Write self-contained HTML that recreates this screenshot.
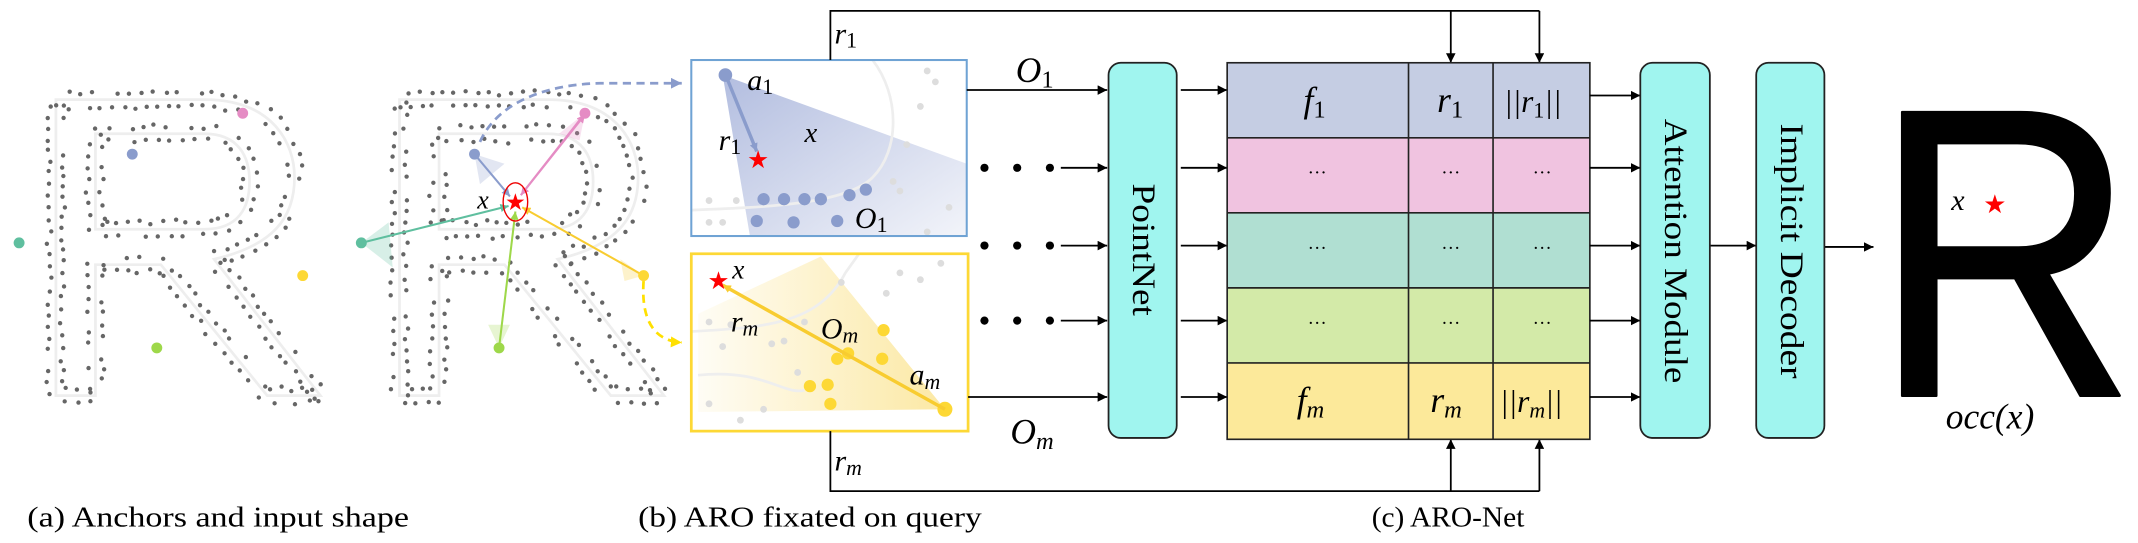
<!DOCTYPE html>
<html><head><meta charset="utf-8"><style>
html,body{margin:0;padding:0;background:#fff;overflow:hidden}
svg{display:block}
</style></head><body>
<svg id="sv" width="2138" height="543" viewBox="0 0 1568 398" preserveAspectRatio="none" xmlns="http://www.w3.org/2000/svg" font-family="Liberation Serif, serif">
<defs>
<marker id="ar" viewBox="0 0 10 10" refX="10" refY="5" markerWidth="7" markerHeight="7" markerUnits="userSpaceOnUse" orient="auto"><path d="M0,0L10,5L0,10z" fill="#000"/></marker>
<marker id="ab" viewBox="0 0 10 10" refX="10" refY="5" markerWidth="8" markerHeight="8" markerUnits="userSpaceOnUse" orient="auto"><path d="M0,0L10,5L0,10z" fill="#8a9ccc"/></marker>
<marker id="ay" viewBox="0 0 10 10" refX="10" refY="5" markerWidth="8" markerHeight="8" markerUnits="userSpaceOnUse" orient="auto"><path d="M0,0L10,5L0,10z" fill="#ffe000"/></marker>
<marker id="mb" viewBox="0 0 10 10" refX="10" refY="5" markerWidth="6" markerHeight="6" markerUnits="userSpaceOnUse" orient="auto"><path d="M0,0L10,5L0,10z" fill="#8a9ccc"/></marker>
<marker id="mp" viewBox="0 0 10 10" refX="10" refY="5" markerWidth="6" markerHeight="6" markerUnits="userSpaceOnUse" orient="auto"><path d="M0,0L10,5L0,10z" fill="#e58cc4"/></marker>
<marker id="mt" viewBox="0 0 10 10" refX="10" refY="5" markerWidth="6" markerHeight="6" markerUnits="userSpaceOnUse" orient="auto"><path d="M0,0L10,5L0,10z" fill="#5fbf9f"/></marker>
<marker id="mg" viewBox="0 0 10 10" refX="10" refY="5" markerWidth="6" markerHeight="6" markerUnits="userSpaceOnUse" orient="auto"><path d="M0,0L10,5L0,10z" fill="#9ed84a"/></marker>
<marker id="my" viewBox="0 0 10 10" refX="10" refY="5" markerWidth="6" markerHeight="6" markerUnits="userSpaceOnUse" orient="auto"><path d="M0,0L10,5L0,10z" fill="#f8cc30"/></marker>
<linearGradient id="gb" x1="0" y1="0" x2="1" y2="1"><stop offset="0" stop-color="#aab6dc" stop-opacity=".9"/><stop offset="1" stop-color="#aab6dc" stop-opacity=".15"/></linearGradient>
<linearGradient id="gy" x1="1" y1="0" x2="0" y2="0"><stop offset="0" stop-color="#fbe69a" stop-opacity=".9"/><stop offset="1" stop-color="#fbe69a" stop-opacity=".1"/></linearGradient>
<path id="Ro" d="M41,73 L150,73 C200,73 216,105 216,130 C216,160 200,180 157,190 L235,290 L196,290 L118,194 L70,194 L70,290 L41,290 Z"/>
<path id="Ri" d="M70,98 L150,98 C175,98 183,115 183,133 C183,152 175,168 150,168 L70,168 Z"/>
</defs>

<g fill="none" stroke="#eee" stroke-width="2"><use href="#Ro"/><use href="#Ri"/></g>
<g id="dots1"></g>
<g transform="translate(252,0)" fill="none" stroke="#eee" stroke-width="2"><use href="#Ro"/><use href="#Ri"/></g>
<g id="dots2" transform="translate(252,0)"></g>
<circle cx="14" cy="178" r="4" fill="#5fbf9f"/>
<circle cx="97" cy="113" r="4" fill="#8a9ccc"/>
<circle cx="178" cy="83" r="4" fill="#e58cc4"/>
<circle cx="222" cy="202" r="4" fill="#fdd835"/>
<circle cx="115" cy="255" r="4" fill="#9ed84a"/>

<polygon points="265,178 285,163 288,196" fill="#5fbf9f" opacity=".25"/>
<polygon points="348,113 370,120 352,135" fill="#8a9ccc" opacity=".25"/>
<polygon points="429,83 410,98 425,103" fill="#e58cc4" opacity=".25"/>
<polygon points="472,202 455,190 458,206" fill="#f8cc30" opacity=".25"/>
<polygon points="366,255 358,238 374,238" fill="#9ed84a" opacity=".25"/>
<line x1="265" y1="178" x2="373" y2="151" stroke="#5fbf9f" stroke-width="1.5" marker-end="url(#mt)"/>
<line x1="348" y1="113" x2="374" y2="144" stroke="#8a9ccc" stroke-width="1.5" marker-end="url(#mb)"/>
<line x1="382" y1="143" x2="429" y2="84" stroke="#e58cc4" stroke-width="1.5" marker-end="url(#mp)"/>
<line x1="429" y1="83" x2="382" y2="143" stroke="#e58cc4" stroke-width="1.5" marker-end="url(#mp)"/>
<line x1="366" y1="255" x2="378" y2="155" stroke="#9ed84a" stroke-width="1.5" marker-end="url(#mg)"/>
<line x1="472" y1="202" x2="383" y2="152" stroke="#f8cc30" stroke-width="1.5" marker-end="url(#my)"/>
<circle cx="265" cy="178" r="4" fill="#5fbf9f"/>
<circle cx="348" cy="113" r="4" fill="#8a9ccc"/>
<circle cx="429" cy="83" r="4" fill="#e58cc4"/>
<circle cx="472" cy="202" r="4" fill="#fdd835"/>
<circle cx="366" cy="255" r="4" fill="#9ed84a"/>
<ellipse cx="378" cy="148" rx="9" ry="14" fill="none" stroke="#e00" stroke-width="1"/>
<text x="378" y="154" font-size="17" fill="#f00" text-anchor="middle" font-family="DejaVu Sans, sans-serif">★</text>
<text x="350" y="153" font-size="19" font-style="italic">x</text>
<path d="M352,104 C365,75 400,62 440,61 L500,61" fill="none" stroke="#8a9ccc" stroke-width="2" stroke-dasharray="6,4" marker-end="url(#ab)"/>
<path d="M472,206 C470,235 480,250 500,251" fill="none" stroke="#ffe000" stroke-width="2" stroke-dasharray="6,4" marker-end="url(#ay)"/>

<rect x="507" y="44" width="202" height="129" fill="#fff"/>
<polygon points="530,55 709,120 709,173 550,173" fill="url(#gb)"/>
<path d="M507,154 C560,152 620,150 640,130 C660,110 660,70 640,44" fill="none" stroke="#eee" stroke-width="2"/>
<g fill="#ddd"><circle cx="520" cy="147" r="2.5"/><circle cx="540" cy="147" r="2.5"/><circle cx="520" cy="163" r="2.5"/><circle cx="530" cy="163" r="2.5"/><circle cx="655" cy="133" r="2.5"/><circle cx="665" cy="106" r="2.5"/><circle cx="680" cy="52" r="2.5"/><circle cx="686" cy="60" r="2.5"/><circle cx="675" cy="78" r="2.5"/><circle cx="696" cy="152" r="2.5"/><circle cx="680" cy="170" r="2.5"/><circle cx="660" cy="140" r="2.5"/></g>
<g fill="#8a9ccc"><circle cx="532" cy="55" r="5"/><circle cx="560" cy="146" r="4.5"/><circle cx="575" cy="146" r="4.5"/><circle cx="590" cy="146" r="4.5"/><circle cx="602" cy="146" r="4.5"/><circle cx="623" cy="143" r="4.5"/><circle cx="635" cy="139" r="4.5"/><circle cx="555" cy="162" r="4.5"/><circle cx="582" cy="163" r="4.5"/><circle cx="614" cy="162" r="4.5"/></g>
<line x1="533" y1="57" x2="555" y2="111" stroke="#8a9ccc" stroke-width="2.5" marker-end="url(#mb)"/>
<text x="556" y="123" font-size="18" fill="#f00" text-anchor="middle" font-family="DejaVu Sans, sans-serif">★</text>
<text x="548" y="66" font-size="22" font-style="italic">a<tspan font-style="normal" font-size="16" dy="3">1</tspan></text>
<text x="527" y="110" font-size="22" font-style="italic">r<tspan font-style="normal" font-size="16" dy="3">1</tspan></text>
<text x="590" y="104" font-size="21" font-style="italic">x</text>
<text x="627" y="167" font-size="22" font-style="italic">O<tspan font-style="normal" font-size="16" dy="3">1</tspan></text>
<rect x="507" y="44" width="202" height="129" fill="none" stroke="#6fa3d4" stroke-width="1.5"/>

<rect x="507" y="186" width="203" height="130" fill="#fff"/>
<polygon points="602,188 693,300 512,302 512,230" fill="url(#gy)"/>
<path d="M507,243 C560,240 600,238 620,200 L630,186 M590,286 C575,290 560,270 512,275" fill="none" stroke="#eee" stroke-width="2"/>
<g fill="#ddd"><circle cx="520" cy="236" r="2.5"/><circle cx="536" cy="238" r="2.5"/><circle cx="530" cy="254" r="2.5"/><circle cx="566" cy="252" r="2.5"/><circle cx="575" cy="250" r="2.5"/><circle cx="590" cy="236" r="2.5"/><circle cx="617" cy="207" r="2.5"/><circle cx="650" cy="215" r="2.5"/><circle cx="660" cy="200" r="2.5"/><circle cx="675" cy="205" r="2.5"/><circle cx="520" cy="296" r="2.5"/><circle cx="543" cy="308" r="2.5"/><circle cx="560" cy="300" r="2.5"/><circle cx="585" cy="273" r="2.5"/><circle cx="690" cy="193" r="2.5"/></g>
<g fill="#fdd835"><circle cx="614" cy="263" r="4.5"/><circle cx="622" cy="259" r="4.5"/><circle cx="647" cy="263" r="4.5"/><circle cx="648" cy="242" r="4.5"/><circle cx="594" cy="283" r="4.5"/><circle cx="607" cy="282" r="4.5"/><circle cx="609" cy="296" r="4.5"/><circle cx="693" cy="300" r="5.5"/></g>
<line x1="693" y1="300" x2="530" y2="209" stroke="#f8cc30" stroke-width="2.5" marker-end="url(#my)"/>
<text x="527" y="212" font-size="18" fill="#f00" text-anchor="middle" font-family="DejaVu Sans, sans-serif">★</text>
<text x="537" y="204" font-size="20" font-style="italic">x</text>
<text x="536" y="243" font-size="22" font-style="italic">r<tspan font-size="16" dy="3">m</tspan></text>
<text x="602" y="248" font-size="22" font-style="italic">O<tspan font-size="16" dy="3">m</tspan></text>
<text x="667" y="282" font-size="22" font-style="italic">a<tspan font-size="16" dy="3">m</tspan></text>
<rect x="507" y="186" width="203" height="130" fill="none" stroke="#fdd835" stroke-width="2"/>

<g fill="none" stroke="#000" stroke-width="1.3">
<polyline points="609,44 609,8 1129,8"/>
<line x1="1064" y1="8" x2="1064" y2="46" marker-end="url(#ar)"/>
<line x1="1129" y1="8" x2="1129" y2="46" marker-end="url(#ar)"/>
<polyline points="609,316 609,360 1129,360"/>
<line x1="1064" y1="360" x2="1064" y2="322" marker-end="url(#ar)"/>
<line x1="1129" y1="360" x2="1129" y2="322" marker-end="url(#ar)"/>
</g>
<text x="612" y="32" font-size="22" font-style="italic">r<tspan font-style="normal" font-size="16" dy="3">1</tspan></text>
<text x="612" y="345" font-size="22" font-style="italic">r<tspan font-size="16" dy="3">m</tspan></text>

<g stroke="#000" stroke-width="1.3">
<line x1="709" y1="66" x2="812" y2="66" marker-end="url(#ar)"/>
<line x1="710" y1="291" x2="812" y2="291" marker-end="url(#ar)"/>
<line x1="778" y1="123" x2="812" y2="123" marker-end="url(#ar)"/>
<line x1="778" y1="180" x2="812" y2="180" marker-end="url(#ar)"/>
<line x1="778" y1="235" x2="812" y2="235" marker-end="url(#ar)"/>
</g>
<g fill="#000"><circle cx="722" cy="123" r="3"/><circle cx="746" cy="123" r="3"/><circle cx="770" cy="123" r="3"/><circle cx="722" cy="180" r="3"/><circle cx="746" cy="180" r="3"/><circle cx="770" cy="180" r="3"/><circle cx="722" cy="235" r="3"/><circle cx="746" cy="235" r="3"/><circle cx="770" cy="235" r="3"/></g>
<text x="745" y="60" font-size="26" font-style="italic">O<tspan font-style="normal" font-size="18" dy="4">1</tspan></text>
<text x="741" y="325" font-size="26" font-style="italic">O<tspan font-size="18" dy="4">m</tspan></text>

<rect x="813" y="46" width="50" height="275" rx="9" fill="#a0f5ef" stroke="#222" stroke-width="1.3"/>
<text transform="translate(831,183) rotate(90)" font-size="24" text-anchor="middle" textLength="97" lengthAdjust="spacingAndGlyphs">PointNet</text>
<g stroke="#000" stroke-width="1.3">
<line x1="866" y1="66" x2="900" y2="66" marker-end="url(#ar)"/>
<line x1="866" y1="123" x2="900" y2="123" marker-end="url(#ar)"/>
<line x1="866" y1="180" x2="900" y2="180" marker-end="url(#ar)"/>
<line x1="866" y1="235" x2="900" y2="235" marker-end="url(#ar)"/>
<line x1="866" y1="291" x2="900" y2="291" marker-end="url(#ar)"/>
</g>

<rect x="900" y="46" width="266" height="55" fill="#c5cde3"/>
<rect x="900" y="101" width="266" height="55" fill="#f0c3e0"/>
<rect x="900" y="156" width="266" height="55" fill="#b0dfd2"/>
<rect x="900" y="211" width="266" height="55" fill="#d3eaa8"/>
<rect x="900" y="266" width="266" height="56" fill="#fce99a"/>
<g stroke="#222" stroke-width="1.2" fill="none">
<rect x="900" y="46" width="266" height="276"/>
<line x1="900" y1="101" x2="1166" y2="101"/><line x1="900" y1="156" x2="1166" y2="156"/><line x1="900" y1="211" x2="1166" y2="211"/><line x1="900" y1="266" x2="1166" y2="266"/>
<line x1="1033" y1="46" x2="1033" y2="322"/><line x1="1095" y1="46" x2="1095" y2="322"/>
</g>
<text x="956" y="82" font-size="26" font-style="italic">f<tspan font-style="normal" font-size="18" dy="4">1</tspan></text>
<text x="1054" y="82" font-size="26" font-style="italic">r<tspan font-style="normal" font-size="18" dy="4">1</tspan></text>
<text x="1103" y="82" font-size="23" font-style="italic">||r<tspan font-style="normal" font-size="16" dy="4">1</tspan><tspan dy="-4">||</tspan></text>
<text x="951" y="302" font-size="26" font-style="italic">f<tspan font-size="18" dy="4">m</tspan></text>
<text x="1049" y="302" font-size="26" font-style="italic">r<tspan font-size="18" dy="4">m</tspan></text>
<text x="1100" y="302" font-size="23" font-style="italic">||r<tspan font-size="16" dy="4">m</tspan><tspan dy="-4">||</tspan></text>
<g font-size="14" text-anchor="middle">
<text x="966" y="131">···</text><text x="1064" y="131">···</text><text x="1131" y="131">···</text>
<text x="966" y="186">···</text><text x="1064" y="186">···</text><text x="1131" y="186">···</text>
<text x="966" y="241">···</text><text x="1064" y="241">···</text><text x="1131" y="241">···</text>
</g>

<g stroke="#000" stroke-width="1.3">
<line x1="1166" y1="70" x2="1203" y2="70" marker-end="url(#ar)"/>
<line x1="1166" y1="123" x2="1203" y2="123" marker-end="url(#ar)"/>
<line x1="1166" y1="180" x2="1203" y2="180" marker-end="url(#ar)"/>
<line x1="1166" y1="235" x2="1203" y2="235" marker-end="url(#ar)"/>
<line x1="1166" y1="291" x2="1203" y2="291" marker-end="url(#ar)"/>
<line x1="1254" y1="180" x2="1288" y2="180" marker-end="url(#ar)"/>
<line x1="1338" y1="181" x2="1374" y2="181" marker-end="url(#ar)"/>
</g>
<rect x="1203" y="46" width="51" height="275" rx="9" fill="#a0f5ef" stroke="#222" stroke-width="1.3"/>
<text transform="translate(1221,184) rotate(90)" font-size="24" text-anchor="middle" textLength="194" lengthAdjust="spacingAndGlyphs">Attention Module</text>
<rect x="1288" y="46" width="50" height="275" rx="9" fill="#a0f5ef" stroke="#222" stroke-width="1.3"/>
<text transform="translate(1306,184) rotate(90)" font-size="24" text-anchor="middle" textLength="187" lengthAdjust="spacingAndGlyphs">Implicit Decoder</text>

<text x="1373" y="290" font-size="302" font-family="Liberation Sans, sans-serif" textLength="194" lengthAdjust="spacingAndGlyphs" stroke="#000" stroke-width="2" stroke-linejoin="round">R</text>
<text x="1431" y="154" font-size="22" font-style="italic">x</text>
<text x="1463" y="156" font-size="19" fill="#f00" text-anchor="middle" font-family="DejaVu Sans, sans-serif">★</text>
<text x="1427" y="314" font-size="26" font-style="italic">occ(x)</text>

<g font-size="21">
<text x="20" y="386" textLength="280" lengthAdjust="spacingAndGlyphs">(a) Anchors and input shape</text>
<text x="468" y="386" textLength="252" lengthAdjust="spacingAndGlyphs">(b) ARO fixated on query</text>
<text x="1006" y="386" textLength="112" lengthAdjust="spacingAndGlyphs">(c) ARO-Net</text>
</g>
</svg>
<script>
(function(){
var NS="http://www.w3.org/2000/svg";
var seed=7;function rnd(){seed=(seed*16807)%2147483647;return (seed-1)/2147483646;}
function make(gid){
 var g=document.getElementById(gid);
 ["Ro","Ri"].forEach(function(id){
  var p=document.getElementById(id);var L=p.getTotalLength();
  [-5,5].forEach(function(off){
   for(var l=0;l<L;l+=7+rnd()*3){
    if(rnd()<0.12)continue;
    var a=p.getPointAtLength(l),b=p.getPointAtLength(Math.min(L,l+0.5));
    var dx=b.x-a.x,dy=b.y-a.y,n=Math.sqrt(dx*dx+dy*dy)||1;
    var nx=-dy/n,ny=dx/n,o=off+(rnd()-0.5)*3;
    var c=document.createElementNS(NS,"circle");
    c.setAttribute("cx",a.x+nx*o+(rnd()-0.5)*1.5);c.setAttribute("cy",a.y+ny*o+(rnd()-0.5)*1.5);
    c.setAttribute("r",1.6);c.setAttribute("fill","#666");g.appendChild(c);
   }
  });
 });
}
make("dots1");make("dots2");
})();
</script>
</body></html>
